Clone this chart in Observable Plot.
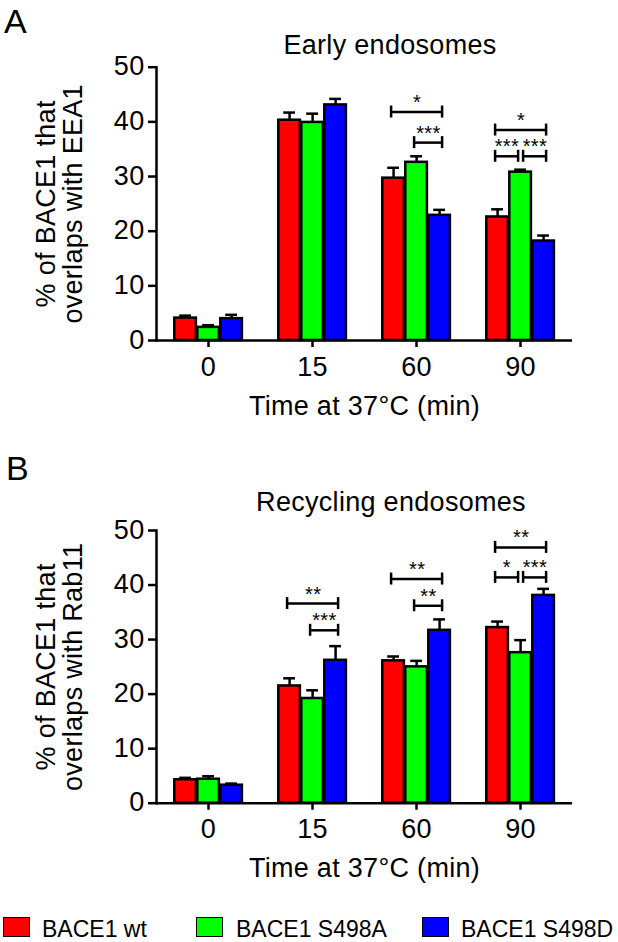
<!DOCTYPE html>
<html>
<head>
<meta charset="utf-8">
<script src="https://cdn.jsdelivr.net/npm/d3@7"></script>
<script src="https://cdn.jsdelivr.net/npm/@observablehq/plot@0.6"></script>
<style>
  html, body { margin: 0; padding: 0; background: #fff; }
  body { width: 618px; height: 942px; position: relative; overflow: hidden;
         font-family: "Liberation Sans", Arial, Helvetica, sans-serif; color: #000; }
  .abs { position: absolute; line-height: 1; white-space: nowrap; }
  .panel-letter { font-size: 34px; }
  .panel-title { font-size: 27px; letter-spacing: 0.3px; transform: translateX(-50%); }
  .legend-box { position: absolute; width: 25px; height: 18px; border: 1.5px solid #000; }
  .legend-text { font-size: 23px; }
</style>
</head>
<body>
<div id="root"></div>
<script>
// ---------- data ----------
const times = [0, 15, 60, 90];
const series = ["BACE1 wt", "BACE1 S498A", "BACE1 S498D"];
const colors = ["#ff0000", "#00ff00", "#0000ff"];
const yTicks = [0, 10, 20, 30, 40, 50];

// Panel A: % of BACE1 overlapping with EEA1 (early endosomes)
const eeaWt = [4.1, 40.3, 29.7, 22.6];
const eeaWtErr = [0.45, 1.4, 1.9, 1.4];
const eeaS498A = [2.4, 39.9, 32.6, 30.8];
const eeaS498AErr = [0.4, 1.6, 1.1, 0.45];
const eeaS498D = [4.0, 43.1, 22.9, 18.2];
const eeaS498DErr = [0.7, 1.1, 1.0, 1.0];
const eeaBrackets = [
  {time: 60, from: "BACE1 wt", to: "BACE1 S498D", y: 41.8, label: "*"},
  {time: 60, from: "BACE1 S498A", to: "BACE1 S498D", y: 36.2, label: "***"},
  {time: 90, from: "BACE1 wt", to: "BACE1 S498D", y: 38.5, label: "*"},
  {time: 90, from: "BACE1 wt", to: "BACE1 S498A", y: 33.7, label: "***"},
  {time: 90, from: "BACE1 S498A", to: "BACE1 S498D", y: 33.7, label: "***"}
];

// Panel B: % of BACE1 overlapping with Rab11 (recycling endosomes)
const rabWt = [4.3, 21.5, 26.1, 32.2];
const rabWtErr = [0.35, 1.4, 0.8, 1.1];
const rabS498A = [4.4, 19.2, 25.0, 27.6];
const rabS498AErr = [0.55, 1.5, 1.1, 2.3];
const rabS498D = [3.3, 26.2, 31.7, 38.1];
const rabS498DErr = [0.3, 2.6, 2.0, 1.2];
const rabBrackets = [
  {time: 15, from: "BACE1 wt", to: "BACE1 S498D", y: 36.6, label: "**"},
  {time: 15, from: "BACE1 S498A", to: "BACE1 S498D", y: 31.7, label: "***"},
  {time: 60, from: "BACE1 wt", to: "BACE1 S498D", y: 41.1, label: "**"},
  {time: 60, from: "BACE1 S498A", to: "BACE1 S498D", y: 36.2, label: "**"},
  {time: 90, from: "BACE1 wt", to: "BACE1 S498D", y: 46.9, label: "**"},
  {time: 90, from: "BACE1 wt", to: "BACE1 S498A", y: 41.4, label: "*"},
  {time: 90, from: "BACE1 S498A", to: "BACE1 S498D", y: 41.4, label: "***"}
];

// ---------- layout ----------
const W = 618;
const marginLeft = 155.4, marginRight = 44.5;
const padOuter = 0.72;
const facetW = (W - marginLeft - marginRight) / times.length;
const barStep = facetW / (series.length + 2 * padOuter);
const capHalf = 1.1;   // bracket end-cap half-length (data units)
const pull = 2.5;      // pull-back where two brackets meet (px)
const ext = 2.5;       // outward extension of free bracket ends (px)
const sw = 2.5;
const font = "'Liberation Sans', Arial, Helvetica, sans-serif";

function bracketMarks(brackets) {
  const idx = s => series.indexOf(s);
  const key = (b, s) => `${b.time}|${b.y}|${s}`;
  const count = d3.rollup(brackets.flatMap(b => [key(b, b.from), key(b, b.to)]), v => v.length, d => d);
  // ls / rs: inward shift (px) of the left / right end; negative = outward
  const items = brackets.map(b => ({
    ...b,
    ls: count.get(key(b, b.from)) > 1 ? pull : -ext,
    rs: count.get(key(b, b.to)) > 1 ? pull : -ext,
    span: idx(b.to) - idx(b.from)
  }));
  const marks = [];
  for (const [ls, g1] of d3.groups(items, d => d.ls))
    for (const [rs, g2] of d3.groups(g1, d => d.rs))
      for (const [span, list] of d3.groups(g2, d => d.span)) {
        marks.push(
          Plot.ruleY(list, {fx: "time", x1: "from", x2: "to", y: "y",
            insetLeft: barStep / 2 + ls, insetRight: barStep / 2 + rs, strokeWidth: sw}),
          Plot.ruleX(list, {fx: "time", x: "from", y1: d => d.y - capHalf, y2: d => d.y + capHalf, dx: ls, strokeWidth: sw}),
          Plot.ruleX(list, {fx: "time", x: "to", y1: d => d.y - capHalf, y2: d => d.y + capHalf, dx: -rs, strokeWidth: sw}),
          Plot.text(list, {fx: "time", x: "from", y: "y", text: "label", lineAnchor: "bottom",
            dy: -3, dx: span * barStep / 2 + (ls - rs) / 2, fontSize: 20})
        );
      }
  return marks;
}

function panel({vals, errs, brackets, yLabel, height, marginTop, plotH}) {
  const rows = times.flatMap((t, i) => series.map((s, j) => ({time: t, series: s, value: vals[j][i], err: errs[j][i]})));
  return Plot.plot({
    width: W,
    height,
    marginTop,
    marginBottom: height - marginTop - plotH,
    marginLeft,
    marginRight,
    style: {fontFamily: font, fontSize: "27px", color: "#000", background: "transparent", letterSpacing: "0.3px", overflow: "visible"},
    fx: {domain: times, padding: 0},
    x: {domain: series, paddingInner: 0, paddingOuter: padOuter, axis: null},
    y: {domain: [0, 50]},
    color: {domain: series, range: colors},
    marks: [
      Plot.axisY({ticks: yTicks, tickSize: 8, tickPadding: 4, strokeWidth: sw,
        label: yLabel, labelAnchor: "center", labelOffset: 121, labelArrow: "none", lineHeight: 0.95}),
      Plot.axisFx({anchor: "bottom", tickSize: 7, tickPadding: 9, strokeWidth: sw,
        label: "Time at 37°C (min)", labelAnchor: "center", labelOffset: 74, labelArrow: "none"}),
      Plot.frame({anchor: "left", facet: "super", strokeWidth: sw}),
      Plot.ruleX(rows, {fx: "time", x: "series", y1: "value", y2: d => d.value + d.err, strokeWidth: sw}),
      Plot.tickY(rows, {fx: "time", x: "series", y: d => d.value + d.err, strokeWidth: sw, insetLeft: 5.6, insetRight: 5.6}),
      Plot.barY(rows, {fx: "time", x: "series", y: "value", fill: "series", stroke: "#000", strokeWidth: sw, insetLeft: 0.7, insetRight: 0.7}),
      Plot.ruleY([0], {strokeWidth: sw}),
      ...bracketMarks(brackets)
    ]
  });
}

const root = document.getElementById("root");

function place(el, top) {
  el.style.position = "absolute";
  el.style.left = "0px";
  el.style.top = top + "px";
  root.appendChild(el);
}

place(panel({
  vals: [eeaWt, eeaS498A, eeaS498D],
  errs: [eeaWtErr, eeaS498AErr, eeaS498DErr],
  brackets: eeaBrackets,
  yLabel: "% of BACE1 that\noverlaps with EEA1",
  height: 440, marginTop: 66.7, plotH: 273.3
}), 0);

place(panel({
  vals: [rabWt, rabS498A, rabS498D],
  errs: [rabWtErr, rabS498AErr, rabS498DErr],
  brackets: rabBrackets,
  yLabel: "% of BACE1 that\noverlaps with Rab11",
  height: 465, marginTop: 90, plotH: 272.7
}), 440);

// titles and panel letters
function label(text, cls, left, top) {
  const d = document.createElement("div");
  d.className = "abs " + cls;
  d.textContent = text;
  d.style.left = left + "px";
  d.style.top = top + "px";
  root.appendChild(d);
}
label("A", "panel-letter", 4, 4);
label("Early endosomes", "panel-title", 390, 32);
label("B", "panel-letter", 6, 451);
label("Recycling endosomes", "panel-title", 391, 489);

// legend
const legendBoxLeft = [3, 196, 422];
const legendTextLeft = [42, 236, 461];
series.forEach((s, i) => {
  const b = document.createElement("div");
  b.className = "legend-box";
  b.style.left = legendBoxLeft[i] + "px";
  b.style.top = "917px";
  b.style.background = colors[i];
  root.appendChild(b);
  label(s, "legend-text", legendTextLeft[i], 918);
});
</script>
</body>
</html>
